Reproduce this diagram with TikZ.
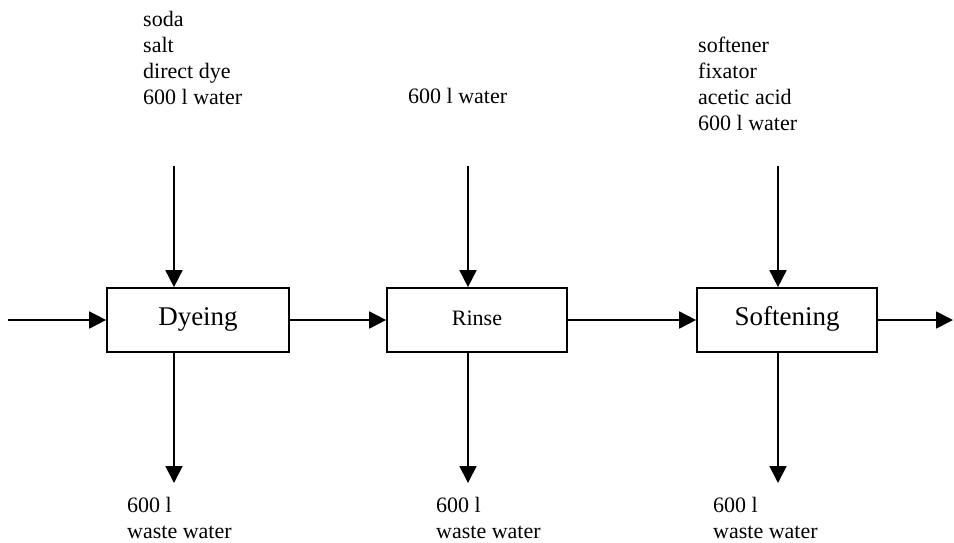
\documentclass[tikz,border=0pt]{standalone}
\usepackage{fontspec}
\setmainfont{Liberation Serif}
\usetikzlibrary{arrows.meta,positioning}
\begin{document}
\begin{tikzpicture}[
  x=1pt, y=-1pt,
  stage/.style={rectangle, draw, line width=1.7pt, minimum width=180pt, minimum height=64pt, inner sep=0pt, text height=15pt, text depth=5pt},
  flow/.style={->, line width=1.7pt},
  feed/.style={inner sep=0pt, align=left, font=\fontsize{22}{26}\selectfont},
  >={Triangle[length=17pt,width=17pt]}
]
\useasboundingbox (0,0) rectangle (954,542);

% Process steps
\node[stage, minimum width=182pt, font=\fontsize{27}{32}\selectfont] (dye) at (198,320) {Dyeing};
\node[stage, font=\fontsize{22}{26}\selectfont] (rinse) at (477,320) {Rinse};
\node[stage, font=\fontsize{27}{32}\selectfont] (soft) at (787,320) {Softening};

% Main line
\coordinate (in) at (8,320);
\coordinate (out) at (953,320);
\draw[flow] (in) -- (dye);
\draw[flow] (dye) -- (rinse);
\draw[flow] (rinse) -- (soft);
\draw[flow] (soft) -- (out);

% Inputs from above
\coordinate (dyein) at (174,166);
\coordinate (rinsein) at (468,166);
\coordinate (softin) at (778,166);
\draw[flow] (dyein) -- (dyein |- dye.north);
\draw[flow] (rinsein) -- (rinsein |- rinse.north);
\draw[flow] (softin) -- (softin |- soft.north);

% Waste water below
\coordinate (dyeout) at (174,483);
\coordinate (rinseout) at (468,483);
\coordinate (softout) at (778,483);
\draw[flow] (dyeout |- dye.south) -- (dyeout);
\draw[flow] (rinseout |- rinse.south) -- (rinseout);
\draw[flow] (softout |- soft.south) -- (softout);

% Labels
\node[feed, anchor=north west] (dyefeed) at (143,11) {soda\\salt\\direct dye\\600 l water};
\node[feed, anchor=base west] (rinsefeed) at (408,103) {600 l water};
\node[feed, anchor=north west] (softfeed) at (698,37) {softener\\fixator\\acetic acid\\600 l water};
\node[feed, anchor=north west] (dyewaste) at (127,497) {600 l\\waste water};
\node[feed, anchor=north west] (rinsewaste) at (436,497) {600 l\\waste water};
\node[feed, anchor=north west] (softwaste) at (713,497) {600 l\\waste water};
\end{tikzpicture}
\end{document}
